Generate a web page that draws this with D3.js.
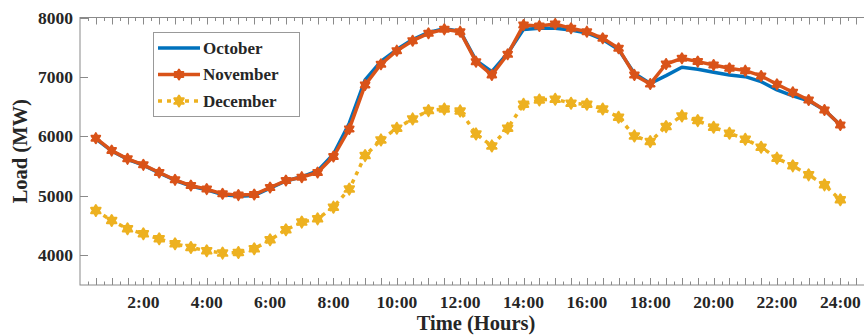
<!DOCTYPE html>
<html>
<head>
<meta charset="utf-8">
<script src="https://cdn.jsdelivr.net/npm/d3@7"></script>
<style>
    body { margin: 0; background: #fff; }
    svg { display: block; }
    text { font-family: "Liberation Serif", "Times New Roman", serif; font-weight: bold; fill: #262626; }
</style>
</head>
<body>
<svg id="chart"></svg>
<script>
// half-hourly samples
var hours = [0.5, 1, 1.5, 2, 2.5, 3, 3.5, 4, 4.5, 5, 5.5, 6, 6.5, 7, 7.5, 8, 8.5, 9, 9.5, 10, 10.5, 11, 11.5, 12,
    12.5, 13, 13.5, 14, 14.5, 15, 15.5, 16, 16.5, 17, 17.5, 18, 18.5, 19, 19.5, 20, 20.5, 21, 21.5, 22, 22.5, 23, 23.5, 24];

var october = [5960, 5755, 5615, 5515, 5385, 5262, 5165, 5100, 5020, 4995, 5005, 5130,
    5250, 5320, 5420, 5700, 6222, 6950, 7260, 7460, 7630, 7750, 7810, 7770,
    7280, 7090, 7400, 7800, 7820, 7820, 7790, 7740, 7630, 7460, 7060, 6890,
    7022, 7163, 7129, 7079, 7034, 7005, 6921, 6782, 6681, 6600, 6445, 6193];

var november = [5970, 5761, 5622, 5521, 5392, 5269, 5173, 5113, 5034, 5012, 5022, 5140,
    5257, 5314, 5392, 5661, 6126, 6866, 7213, 7442, 7610, 7734, 7801, 7762,
    7257, 7034, 7381, 7874, 7857, 7891, 7818, 7762, 7650, 7482, 7034, 6882,
    7218, 7314, 7258, 7202, 7146, 7106, 7017, 6877, 6743, 6613, 6445, 6193];

var december = [4753, 4585, 4445, 4361, 4277, 4193, 4131, 4076, 4037, 4047, 4109, 4260,
    4429, 4558, 4613, 4810, 5113, 5677, 5941, 6138, 6294, 6434, 6462, 6429,
    6042, 5840, 6138, 6541, 6613, 6625, 6558, 6541, 6462, 6323, 6008, 5913,
    6165, 6345, 6266, 6155, 6054, 5953, 5818, 5634, 5504, 5353, 5185, 4933];

var yTicks = [4000, 5000, 6000, 7000, 8000];
var xLabelHours = [2, 4, 6, 8, 10, 12, 14, 16, 18, 20, 22, 24];
var xLabels = ["2:00", "4:00", "6:00", "8:00", "10:00", "12:00", "14:00", "16:00", "18:00", "20:00", "22:00", "24:00"];

var width = 864;
var height = 336;

var plot = { left: 80, right: 872, top: 17.5, bottom: 285 };

var x = d3.scaleLinear().domain([0, 25]).range([plot.left, plot.right]);
var y = d3.scaleLinear().domain([3500, 8000]).range([plot.bottom, plot.top]);

var axisColor = '#8a8a8a';

var svg = d3.select('#chart')
    .attr('width', width)
    .attr('height', height);

// hexagram marker (two triangles)
function hexagram(r) {
    var p1 = [], p2 = [];
    for (var i = 0; i < 3; i++) {
        var a1 = -Math.PI / 2 + i * 2 * Math.PI / 3;
        var a2 = Math.PI / 2 + i * 2 * Math.PI / 3;
        p1.push([r * Math.cos(a1), r * Math.sin(a1)]);
        p2.push([r * Math.cos(a2), r * Math.sin(a2)]);
    }
    return 'M' + p1.join('L') + 'Z' + 'M' + p2.join('L') + 'Z';
}

// box
svg.append('rect')
    .attr('x', plot.left)
    .attr('y', plot.top)
    .attr('width', plot.right - plot.left)
    .attr('height', plot.bottom - plot.top)
    .attr('fill', 'none')
    .attr('stroke', axisColor)
    .attr('stroke-width', 1);

// x ticks, bottom and top (major every half hour, minor in between)
var majorX = d3.range(0.5, 24.51, 0.5);
var minorX = d3.range(0.25, 24.8, 0.5);

var tickG = svg.append('g').attr('stroke', axisColor).attr('stroke-width', 1);

majorX.forEach(function (t) {
    var px = Math.round(x(t)) + 0.5;
    tickG.append('line').attr('x1', px).attr('x2', px).attr('y1', plot.bottom).attr('y2', plot.bottom - 7);
    tickG.append('line').attr('x1', px).attr('x2', px).attr('y1', plot.top).attr('y2', plot.top + 7);
});
minorX.forEach(function (t) {
    var px = Math.round(x(t)) + 0.5;
    tickG.append('line').attr('x1', px).attr('x2', px).attr('y1', plot.bottom).attr('y2', plot.bottom - 3.5);
    tickG.append('line').attr('x1', px).attr('x2', px).attr('y1', plot.top).attr('y2', plot.top + 3.5);
});

// y ticks, left and right
yTicks.forEach(function (v) {
    var py = Math.round(y(v)) + 0.5;
    tickG.append('line').attr('x1', plot.left).attr('x2', plot.left + 8).attr('y1', py).attr('y2', py);
    tickG.append('line').attr('x1', plot.right).attr('x2', plot.right - 8).attr('y1', py).attr('y2', py);
});

// tick labels
svg.append('g').selectAll('text')
    .data(yTicks)
    .enter().append('text')
    .attr('x', plot.left - 7)
    .attr('y', function (d) { return y(d) + 6; })
    .attr('text-anchor', 'end')
    .attr('font-size', 17.5)
    .text(function (d) { return d; });

svg.append('g').selectAll('text')
    .data(xLabelHours)
    .enter().append('text')
    .attr('x', function (d) { return x(d); })
    .attr('y', plot.bottom + 23)
    .attr('text-anchor', 'middle')
    .attr('font-size', 17.5)
    .text(function (d, i) { return xLabels[i]; });

// axis titles
svg.append('text')
    .attr('x', (plot.left + plot.right) / 2)
    .attr('y', 330)
    .attr('text-anchor', 'middle')
    .attr('font-size', 20.5)
    .text('Time (Hours)');

svg.append('text')
    .attr('transform', 'translate(27,' + ((plot.top + plot.bottom) / 2) + ') rotate(-90)')
    .attr('text-anchor', 'middle')
    .attr('font-size', 20.5)
    .text('Load (MW)');

// series
var series = [
    { name: 'October', values: october, color: '#0072BD', dash: null, marker: 0 },
    { name: 'November', values: november, color: '#D95319', dash: null, marker: 5 },
    { name: 'December', values: december, color: '#EDB120', dash: '4,5', marker: 5.5 }
];

var line = d3.line()
    .x(function (d) { return x(d[0]); })
    .y(function (d) { return y(d[1]); });

series.forEach(function (s) {
    var pts = hours.map(function (h, i) { return [h, s.values[i]]; });
    svg.append('path')
        .attr('class', 'line')
        .attr('d', line(pts))
        .attr('fill', 'none')
        .attr('stroke', s.color)
        .attr('stroke-width', 3.5)
        .attr('stroke-linejoin', 'round')
        .attr('stroke-dasharray', s.dash);

    if (s.marker) {
        svg.append('g').selectAll('path')
            .data(pts)
            .enter().append('path')
            .attr('transform', function (d) { return 'translate(' + x(d[0]) + ',' + y(d[1]) + ')'; })
            .attr('d', hexagram(s.marker))
            .attr('fill', s.color)
            .attr('stroke', s.color)
            .attr('stroke-width', 2)
            .attr('stroke-linejoin', 'round');
    }
});

// legend
var legend = svg.append('g');
legend.append('rect')
    .attr('x', 153.5)
    .attr('y', 32.5)
    .attr('width', 146)
    .attr('height', 84)
    .attr('fill', '#fff')
    .attr('stroke', '#999')
    .attr('stroke-width', 1);

series.forEach(function (s, i) {
    var ly = 48 + i * 26.5;
    legend.append('line')
        .attr('x1', 158).attr('x2', 200)
        .attr('y1', ly).attr('y2', ly)
        .attr('stroke', s.color)
        .attr('stroke-width', 3.5)
        .attr('stroke-dasharray', s.dash);
    if (s.marker) {
        legend.append('path')
            .attr('transform', 'translate(179,' + ly + ')')
            .attr('d', hexagram(s.marker))
            .attr('fill', s.color)
            .attr('stroke', s.color)
            .attr('stroke-width', 2)
            .attr('stroke-linejoin', 'round');
    }
    legend.append('text')
        .attr('x', 203)
        .attr('y', ly + 5.5)
        .attr('font-size', 17)
        .text(s.name);
});
</script>
</body>
</html>
